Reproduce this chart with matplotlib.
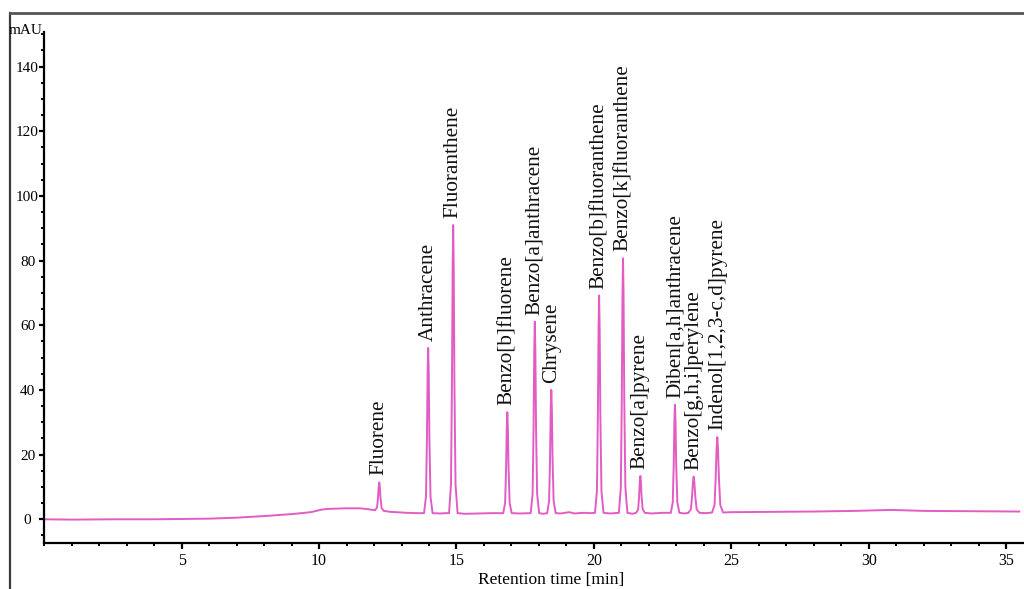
import numpy as np
import matplotlib.pyplot as plt
from matplotlib.lines import Line2D
from matplotlib.ticker import MultipleLocator

# chromatogram trace (retention time [min], signal [mAU])
trace_time = [
    0.0, 1.0, 2.5, 4.0, 5.0, 6.0, 7.0, 8.0, 9.0, 9.7, 10.1, 10.3, 10.6, 11.0, 11.5, 11.8,
    12.04, 12.11, 12.145, 12.17, 12.19, 12.21, 12.235, 12.275, 12.35,
    12.6, 13.2, 13.6,
    13.82, 13.89, 13.925, 13.95, 13.97, 13.99, 14.015, 14.055, 14.13,
    14.4, 14.6,
    14.73, 14.80, 14.835, 14.86, 14.88, 14.90, 14.925, 14.965, 15.04,
    15.3, 15.8, 16.3,
    16.70, 16.77, 16.805, 16.83, 16.85, 16.87, 16.895, 16.935, 17.01,
    17.3, 17.6,
    17.70, 17.77, 17.805, 17.83, 17.85, 17.87, 17.895, 17.935, 18.01,
    18.15,
    18.30, 18.37, 18.405, 18.43, 18.45, 18.47, 18.495, 18.535, 18.61,
    18.8, 19.1, 19.3, 19.6, 19.9,
    20.04, 20.11, 20.145, 20.17, 20.19, 20.21, 20.235, 20.275, 20.35,
    20.6,
    20.91, 20.98, 21.015, 21.04, 21.06, 21.08, 21.105, 21.145, 21.22,
    21.4,
    21.54, 21.61, 21.645, 21.67, 21.69, 21.71, 21.735, 21.775, 21.85,
    22.1, 22.5,
    22.80, 22.87, 22.905, 22.93, 22.95, 22.97, 22.995, 23.035, 23.11,
    23.3,
    23.44, 23.53, 23.57, 23.605, 23.63, 23.655, 23.69, 23.74, 23.84,
    24.1,
    24.30, 24.39, 24.43, 24.465, 24.49, 24.515, 24.55, 24.60, 24.70,
    25.0, 26.5, 28.0, 29.5, 30.8, 32.0, 33.5, 35.48,
]
trace_signal = [
    0.0, -0.1, 0.0, 0.0, 0.1, 0.2, 0.5, 1.0, 1.6, 2.2, 3.0, 3.2, 3.3, 3.4, 3.4, 3.1,
    2.8, 3.7, 6.7, 10.1, 11.4, 10.1, 6.6, 3.5, 2.6,
    2.3, 2.0, 1.9,
    1.9, 7.0, 24.9, 45.3, 53.0, 45.3, 24.9, 7.0, 1.9,
    1.8, 1.9,
    1.9, 10.8, 42.0, 77.6, 91.0, 77.6, 42.0, 10.8, 1.9,
    1.7, 1.8, 1.9,
    1.9, 5.0, 15.9, 28.4, 33.1, 28.4, 15.9, 5.0, 1.9,
    1.8, 1.9,
    1.9, 7.8, 28.5, 52.2, 61.1, 52.2, 28.5, 7.8, 1.9,
    1.7,
    1.9, 5.7, 19.0, 34.3, 40.0, 34.3, 19.0, 5.7, 1.9,
    1.8, 2.2, 1.8, 2.0, 1.9,
    2.0, 8.7, 32.2, 59.1, 69.2, 59.1, 32.2, 8.7, 2.0,
    1.8,
    2.0, 9.9, 37.4, 68.9, 80.7, 68.9, 37.4, 9.9, 2.0,
    1.7,
    2.0, 3.1, 7.1, 11.7, 13.4, 11.7, 7.1, 3.1, 2.0,
    1.8, 2.0,
    2.0, 5.3, 17.0, 30.4, 35.4, 30.4, 17.0, 5.3, 2.0,
    1.8,
    2.0, 3.1, 7.0, 11.5, 13.2, 11.5, 7.0, 3.1, 2.0,
    1.9,
    2.1, 4.4, 12.6, 21.9, 25.4, 21.9, 12.6, 4.4, 2.1,
    2.2, 2.3, 2.4, 2.6, 2.9, 2.6, 2.5, 2.4,
]

# peak labels
peak_names = ['Fluorene', 'Anthracene', 'Fluoranthene', 'Benzo[b]fluorene',
              'Benzo[a]anthracene', 'Chrysene', 'Benzo[b]fluoranthene',
              'Benzo[k]fluoranthene', 'Benzo[a]pyrene', 'Diben[a,h]anthracene',
              'Benzo[g,h,i]perylene', 'Indenol[1,2,3-c,d]pyrene']
peak_times = [12.19, 13.97, 14.88, 16.85, 17.85, 18.45, 20.19, 21.06, 21.69, 22.95, 23.63, 24.49]
peak_heights = [11.4, 53.0, 91.0, 33.1, 61.1, 40.0, 69.2, 80.7, 13.4, 35.4, 13.2, 25.4]

plt.rcParams['font.family'] = ['Liberation Serif', 'DejaVu Serif']

fig = plt.figure(figsize=(10.24, 5.89), dpi=100)
ax = fig.add_axes([0.0432, 0.0786, 0.9568, 0.8671])

ax.plot(trace_time, trace_signal, color='#e35cc4', lw=1.4, solid_joinstyle='round')

for name, t, h in zip(peak_names, peak_times, peak_heights):
    ax.annotate(name, (t, h), xytext=(0, 5), textcoords='offset points',
                rotation=90, ha='center', va='bottom', fontsize=15.3, color='#111111')

ax.set_xlim(0, 35.65)
ax.set_ylim(-7.24, 150.7)
ax.xaxis.set_minor_locator(MultipleLocator(1))
ax.yaxis.set_minor_locator(MultipleLocator(5))
ax.set_xticks([5, 10, 15, 20, 25, 30, 35])
ax.set_yticks([0, 20, 40, 60, 80, 100, 120, 140])

for s in ['top', 'right']:
    ax.spines[s].set_visible(False)
for s in ['left', 'bottom']:
    ax.spines[s].set_linewidth(1.6)

ax.tick_params(axis='x', which='major', direction='out', length=4.5, width=1.6, pad=3, labelsize=11.5)
ax.tick_params(axis='x', which='minor', direction='out', length=2.5, width=1.4)
ax.tick_params(axis='y', which='major', direction='out', length=3.5, width=1.6, pad=8.5, labelsize=11)
ax.tick_params(axis='y', which='minor', direction='out', length=2, width=1.4)
for lab in ax.get_yticklabels():
    lab.set_horizontalalignment('center')

ax.set_xlabel('Retention time [min]', fontsize=12.5)
ax.xaxis.set_label_coords(0.517, -0.057)

fig.text(0.042, 1 - 31 / 589, 'mAU', ha='right', va='center', fontsize=11)

# outer frame of the original figure
fig.add_artist(Line2D([10 / 1024, 10 / 1024], [0, 1 - 12.7 / 589], transform=fig.transFigure,
                      color='#3a3a3a', lw=1.6))
fig.add_artist(Line2D([10 / 1024, 1], [1 - 12.7 / 589, 1 - 12.7 / 589], transform=fig.transFigure,
                      color='#555555', lw=2.0))

fig.savefig('out.png', dpi=100)
